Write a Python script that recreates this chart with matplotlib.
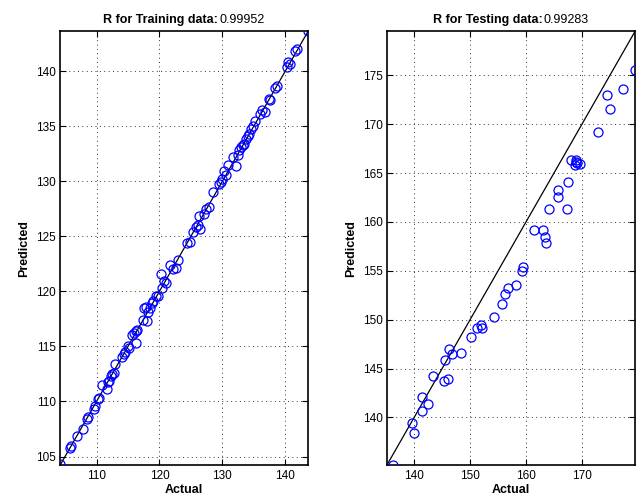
import numpy as np
import matplotlib
matplotlib.use("Agg")
import matplotlib.pyplot as plt
from matplotlib.transforms import offset_copy

plt.rcParams["font.family"] = ["Liberation Sans", "DejaVu Sans"]

# Training data (actual vs predicted)
train_actual = [104.2, 105.8, 106.0, 106.9, 107.9, 108.5, 108.7, 109.6, 109.8, 110.3,
                110.4, 110.8, 111.6, 111.8, 112.0, 112.3, 112.5, 112.7, 112.9, 114.0,
                114.3, 114.6, 115.0, 115.1, 116.3, 115.6, 115.9, 116.2, 116.5, 117.6,
                117.9, 117.4, 118.0, 118.2, 118.5, 118.8, 119.0, 119.5, 119.7, 120.4,
                120.2, 120.8, 121.0, 121.6, 122.2, 122.6, 122.9, 124.4, 124.9, 125.4,
                125.8, 126.1, 126.3, 126.5, 127.0, 127.4, 127.8, 128.5, 129.4, 129.7,
                130.0, 130.3, 130.6, 130.9, 131.7, 132.1, 132.4, 132.7, 133.0, 133.2,
                133.5, 133.7, 134.0, 134.3, 134.6, 134.8, 135.2, 136.0, 136.3, 136.8,
                137.4, 137.6, 138.4, 138.7, 140.3, 140.5, 140.8, 141.6, 141.9, 143.6]
train_pred = [104.3, 105.8, 106.0, 106.9, 107.5, 108.4, 108.6, 109.3, 109.6, 110.2,
              110.3, 111.5, 111.1, 111.8, 111.9, 112.3, 112.5, 112.6, 113.4, 114.0,
              114.3, 114.5, 115.0, 114.9, 115.3, 116.0, 116.2, 116.4, 116.5, 118.5,
              118.6, 117.4, 117.3, 118.1, 118.5, 118.9, 119.1, 119.6, 119.6, 120.3,
              121.6, 120.9, 120.8, 122.4, 122.0, 122.1, 122.8, 124.4, 124.5, 125.4,
              125.8, 126.0, 126.8, 125.7, 127.0, 127.5, 127.7, 129.0, 129.7, 129.9,
              130.2, 130.9, 130.6, 131.5, 132.2, 131.4, 132.4, 132.8, 133.1, 133.3,
              133.4, 133.8, 134.1, 134.3, 134.7, 135.0, 135.5, 136.1, 136.5, 136.3,
              137.5, 137.4, 138.5, 138.6, 140.4, 140.8, 140.6, 141.8, 142.0, 143.6]

# Testing data (actual vs predicted)
test_actual = [179.5, 177.3, 174.4, 175.0, 172.8, 168.0, 168.9, 168.7, 169.2, 169.6,
               168.9, 167.5, 165.7, 165.7, 164.2, 167.3, 161.4, 163.1, 163.4, 163.5,
               159.5, 159.2, 158.3, 156.8, 156.2, 155.7, 154.3, 151.9, 151.3, 152.2,
               150.1, 146.2, 146.7, 148.4, 145.5, 143.3, 145.4, 146.0, 141.4, 142.4,
               141.4, 139.7, 140.0, 136.2]
test_pred = [175.5, 173.6, 173.0, 171.6, 169.2, 166.3, 166.3, 165.8, 166.0, 165.9,
             166.1, 164.1, 163.3, 162.6, 161.3, 161.3, 159.2, 159.2, 158.5, 157.9,
             155.4, 155.0, 153.6, 153.2, 152.6, 151.6, 150.3, 149.5, 149.2, 149.2,
             148.2, 147.0, 146.5, 146.6, 145.9, 144.2, 143.7, 143.9, 142.1, 141.4,
             140.7, 139.4, 138.4, 135.1]

panels = [
    (train_actual, train_pred, "0.99952", "R for Training data:",
     [110, 120, 130, 140], [105, 110, 115, 120, 125, 130, 135, 140]),
    (test_actual, test_pred, "0.99283", "R for Testing data:",
     [140, 150, 160, 170], [140, 145, 150, 155, 160, 165, 170, 175]),
]

fig = plt.figure(figsize=(6.39, 4.98), dpi=100)
positions = [[0.0939, 0.0655, 0.3881, 0.8715], [0.6052, 0.0655, 0.3886, 0.8715]]
renderer = fig.canvas.get_renderer()

for pos, (act, pred, r, label, xt, yt) in zip(positions, panels):
    ax = fig.add_axes(pos)
    act = np.array(act)
    pred = np.array(pred)
    lo = min(act.min(), pred.min())
    hi = max(act.max(), pred.max())
    ax.plot(act, pred, "o", mfc="none", mec="blue", ms=6.5, mew=0.9, zorder=3)
    ax.plot([lo, hi], [lo, hi], color="black", lw=0.9, zorder=2)
    ax.set_xlim(lo, hi)
    ax.set_ylim(lo, hi)
    ax.set_xticks(xt)
    ax.set_yticks(yt)
    ax.grid(True, linestyle=(0, (1, 3.5)), color="0.2", linewidth=0.7)
    ax.tick_params(direction="in", top=True, right=True, length=4, labelsize=8.5, pad=3)
    for s in ax.spines.values():
        s.set_linewidth(1.2)
    ax.set_xlabel("Actual", fontsize=9, fontweight="bold", labelpad=2)
    ax.set_ylabel("Predicted", fontsize=9, fontweight="bold", labelpad=4)

    # title: bold label followed by plain value, centred together
    t1 = ax.text(0.5, 1.0, label, transform=ax.transAxes, fontsize=9,
                 fontweight="bold", ha="left", va="baseline")
    t2 = ax.text(0.5, 1.0, r, transform=ax.transAxes, fontsize=9,
                 ha="left", va="baseline")
    w1 = t1.get_window_extent(renderer).width
    w2 = t2.get_window_extent(renderer).width
    total = w1 + w2 + 1
    t1.set_transform(offset_copy(ax.transAxes, fig=fig, x=-total / 2, y=8, units="dots"))
    t2.set_transform(offset_copy(ax.transAxes, fig=fig, x=-total / 2 + w1 + 1, y=8, units="dots"))

fig.savefig("out.png", dpi=100)
